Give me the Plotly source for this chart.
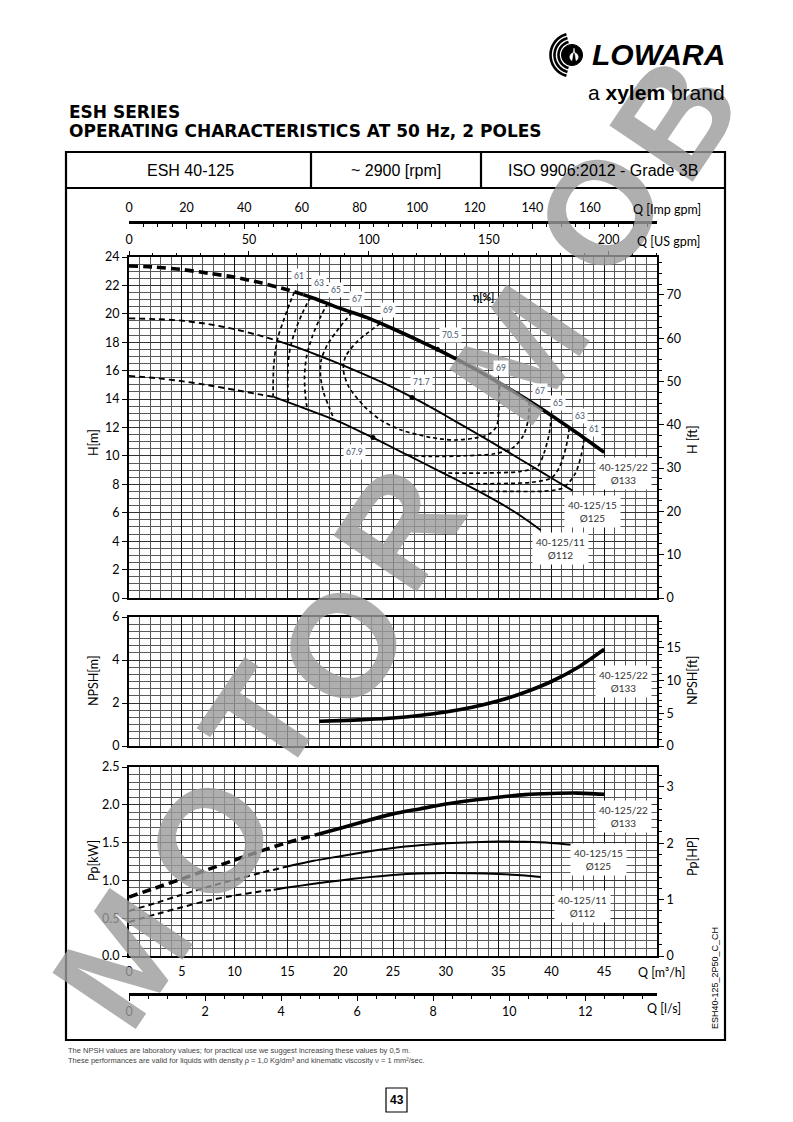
import math
import plotly.graph_objects as go

PAGE_W, PAGE_H = 793, 1122
BODY_M = 8                      # default browser body margin around the figure
FIG_W, FIG_H = PAGE_W - 2 * BODY_M, PAGE_H - 2 * BODY_M


def fx(x):
    return (x - BODY_M) / FIG_W


def fy(y):
    return 1 - (y - BODY_M) / FIG_H


# ---------------- data ----------------
# flow Q in m3/h, head H in m
q_h22 = [0, 2.5, 5, 7.5, 10, 12.5, 15, 16.5, 17.5, 20, 22.5, 25, 27.5, 30, 32.5, 35, 37.5, 40, 42.5, 45]
h_h22 = [23.37, 23.29, 23.12, 22.86, 22.58, 22.18, 21.70, 21.35, 21.10, 20.38, 19.75, 18.95, 18.10, 17.20, 16.22, 15.16, 14.05, 12.85, 11.58, 10.25]
h22_solid_from = 16.5
q_h15 = [0, 2.5, 5, 7.5, 10, 12.5, 14, 16, 18, 20, 22, 24, 26, 28, 30, 32, 34, 36, 38, 40, 42]
h_h15 = [19.68, 19.63, 19.52, 19.28, 18.92, 18.45, 18.12, 17.62, 17.05, 16.46, 15.83, 15.17, 14.43, 13.66, 12.83, 11.97, 11.11, 10.23, 9.34, 8.45, 7.56]
h15_solid_from = 14
q_h11 = [0, 2.5, 5, 7.5, 10, 12.5, 13.7, 16, 18, 20, 22, 24, 26, 28, 30, 32, 34, 36, 38, 39]
h_h11 = [15.63, 15.48, 15.26, 14.98, 14.65, 14.31, 14.15, 13.52, 12.96, 12.38, 11.68, 10.95, 10.20, 9.45, 8.70, 7.94, 7.15, 6.30, 5.32, 4.77]
h11_solid_from = 13.7

# iso-efficiency curves (left branches "a", right branches "b")
q_e61a = [15.67, 15.22, 14.65, 14.12, 13.87, 13.70, 13.65, 13.65]
h_e61a = [21.55, 20.73, 19.56, 18.39, 17.45, 16.28, 15.12, 14.18]
q_e63a = [17.19, 16.55, 15.76, 15.29, 15.07, 15.03, 15.07]
h_e63a = [21.19, 20.26, 18.86, 17.68, 16.52, 15.12, 13.85]
q_e65a = [18.83, 18.14, 17.35, 16.81, 16.62, 16.71, 16.88]
h_e65a = [20.77, 19.79, 18.39, 16.98, 15.58, 14.18, 13.30]
q_e67a = [21.15, 19.88, 18.77, 18.20, 18.14, 18.45, 18.93, 19.40]
h_e67a = [20.12, 18.98, 17.80, 16.75, 15.58, 14.41, 13.47, 12.60]
q_e69 = [23.8, 21.6, 20.5, 20.3, 20.8, 22.3, 23.8, 25.7, 28.6, 30.8, 32.7, 34.0, 34.8, 35.0, 35.1]
h_e69 = [19.33, 18.04, 16.98, 16.05, 14.88, 13.47, 12.54, 11.84, 11.30, 11.12, 11.25, 11.49, 12.07, 13.00, 15.12]
q_e67b = [37.9, 37.8, 37.3, 36.3, 34.6, 31.8, 28.6, 26.4]
h_e67b = [13.85, 12.54, 11.37, 10.55, 10.15, 10.01, 9.96, 10.05]
q_e65b = [40.0, 39.8, 39.3, 38.7, 37.1, 33.9, 29.7]
h_e65b = [12.85, 11.60, 10.20, 9.26, 8.91, 8.80, 8.80]
q_e63b = [41.7, 41.4, 40.8, 40.0, 38.1, 34.9, 31.8]
h_e63b = [11.96, 10.67, 9.26, 8.45, 8.14, 8.05, 8.02]
q_e61b = [43.1, 42.8, 42.2, 41.1, 39.3, 36.5, 33.2]
h_e61b = [11.22, 9.96, 8.68, 7.75, 7.52, 7.50, 7.50]

# best efficiency points (70.5 / 71.7 / 67.9 %)
q_bep = [29.2, 26.8, 23.1]
h_bep = [17.50, 14.12, 11.29]

# NPSH (40-125/22), m
q_npsh = [18, 20, 22.5, 25, 27.5, 30, 32.5, 35, 37.5, 40, 42.5, 45]
v_npsh = [1.15, 1.18, 1.23, 1.30, 1.42, 1.58, 1.80, 2.10, 2.50, 3.00, 3.65, 4.50]

# shaft power, kW
q_p22 = [0, 2.5, 5, 7.5, 10, 12.5, 15, 18, 20, 22.5, 25, 27.5, 30, 32.5, 35, 37.5, 40, 42.5, 45]
p_p22 = [0.78, 0.90, 1.02, 1.145, 1.27, 1.39, 1.50, 1.615, 1.69, 1.79, 1.88, 1.945, 2.01, 2.06, 2.10, 2.135, 2.15, 2.155, 2.14]
p22_solid_from = 18
q_p15 = [0, 2.5, 5, 7.5, 10, 12.5, 15, 17.5, 20, 22.5, 25, 27.5, 30, 32.5, 35, 37.5, 40, 42]
p_p15 = [0.595, 0.70, 0.81, 0.915, 1.01, 1.10, 1.185, 1.26, 1.32, 1.38, 1.43, 1.465, 1.49, 1.505, 1.515, 1.51, 1.495, 1.47]
p15_solid_from = 15
q_p11 = [0, 2.5, 5, 7.5, 10, 12.5, 13.7, 15, 17.5, 20, 22.5, 25, 27.5, 30, 32.5, 35, 37.5, 39]
p_p11 = [0.45, 0.55, 0.645, 0.735, 0.80, 0.855, 0.875, 0.905, 0.955, 1.00, 1.04, 1.07, 1.09, 1.098, 1.095, 1.085, 1.065, 1.045]
p11_solid_from = 13.7

# axis ranges / unit conversions / tick labels
Q_MAX = 50
H_MAX = 24
NPSH_MAX = 6
P_MAX = 2.5
M3H_TO_USGPM = 4.40287
M3H_TO_IMPGPM = 3.66615
M3H_TO_LS = 1 / 3.6
M_TO_FT = 3.28084
KW_TO_HP = 1 / 0.7457
q_ticks = [0, 5, 10, 15, 20, 25, 30, 35, 40, 45]
usgpm_ticks = [0, 50, 100, 150, 200]
impgpm_ticks = [0, 20, 40, 60, 80, 100, 120, 140, 160]
ls_ticks = [0, 2, 4, 6, 8, 10, 12]

# ---------------- figure ----------------
fig = go.Figure()
TF = dict(family="Lato", size=12.5, color="black")
LAB_COL = "#44546A"


def add_split(q, v, split_q, xa, ya, width, dash):
    i = q.index(split_q)
    fig.add_trace(go.Scatter(x=q[:i + 1], y=v[:i + 1], xaxis=xa, yaxis=ya, mode="lines",
                             line=dict(color="black", width=width, dash=dash, shape="spline", smoothing=0.6),
                             hoverinfo="skip", showlegend=False))
    fig.add_trace(go.Scatter(x=q[i:], y=v[i:], xaxis=xa, yaxis=ya, mode="lines",
                             line=dict(color="black", width=width, shape="spline", smoothing=0.6),
                             hoverinfo="skip", showlegend=False))


def add_line(q, v, xa, ya, width, dash):
    fig.add_trace(go.Scatter(x=q, y=v, xaxis=xa, yaxis=ya, mode="lines",
                             line=dict(color="black", width=width, dash=dash, shape="spline", smoothing=0.8),
                             hoverinfo="skip", showlegend=False))


add_split(q_h22, h_h22, h22_solid_from, "x", "y", 3.6, "9px,5px")
add_split(q_h15, h_h15, h15_solid_from, "x", "y", 1.9, "6px,4px")
add_split(q_h11, h_h11, h11_solid_from, "x", "y", 1.9, "6px,4px")
EDASH = "4px,3px"
for qq, hh in [(q_e61a, h_e61a), (q_e63a, h_e63a), (q_e65a, h_e65a), (q_e67a, h_e67a),
               (q_e69, h_e69), (q_e67b, h_e67b), (q_e65b, h_e65b), (q_e63b, h_e63b), (q_e61b, h_e61b)]:
    add_line(qq, hh, "x", "y", 1.7, EDASH)
fig.add_trace(go.Scatter(x=q_bep, y=h_bep, xaxis="x", yaxis="y", mode="markers",
                         marker=dict(color="black", size=5), hoverinfo="skip", showlegend=False))
add_line(q_npsh, v_npsh, "x2", "y2", 3.6, "solid")
add_split(q_p22, p_p22, p22_solid_from, "x3", "y3", 3.6, "9px,5px")
add_split(q_p15, p_p15, p15_solid_from, "x3", "y3", 2.0, "6px,4px")
add_split(q_p11, p_p11, p11_solid_from, "x3", "y3", 2.0, "6px,4px")
# empty traces so that the secondary axes are registered
for xa, ya in [("x4", "y"), ("x5", "y"), ("x6", "y3"), ("x", "y4"), ("x2", "y5"), ("x3", "y6")]:
    fig.add_trace(go.Scatter(x=[], y=[], xaxis=xa, yaxis=ya, mode="lines",
                             hoverinfo="skip", showlegend=False))

XDOM = [fx(129), fx(657)]
GRID_MAJ = "#111111"
GRID_MIN = "#5a5a5a"


def xbase(anchor, show_labels):
    d = dict(domain=XDOM, range=[0, Q_MAX], anchor=anchor, showgrid=True, gridcolor=GRID_MAJ,
             gridwidth=1.1, tick0=0, dtick=5,
             minor=dict(tick0=0, dtick=1, showgrid=True, gridcolor=GRID_MIN, gridwidth=0.6),
             showline=True, linecolor="black", linewidth=2, mirror=True, zeroline=False,
             ticks="", showticklabels=show_labels, tickfont=TF, fixedrange=True, automargin=False)
    if show_labels:
        d["tickvals"] = q_ticks
        d["ticklabelstandoff"] = 3
    return d


def ybase(anchor, dom, rng, dtick, mdtick, fmt=None):
    d = dict(domain=dom, range=rng, anchor=anchor, tick0=0, dtick=dtick, ticks="outside",
             ticklen=5, tickcolor="black", showgrid=True, gridcolor="#333333", gridwidth=1.1,
             minor=dict(tick0=0, dtick=mdtick, showgrid=True, gridcolor=GRID_MIN, gridwidth=0.6),
             showline=True, linecolor="black", linewidth=2, mirror=True, zeroline=False,
             tickfont=TF, fixedrange=True, automargin=False)
    if fmt:
        d["tickformat"] = fmt
    return d


def yright(over, anchor, rng, dtick, mdtick):
    return dict(overlaying=over, anchor=anchor, side="right", range=rng, tick0=0, dtick=dtick,
                ticks="outside", ticklen=5, tickcolor="black",
                minor=dict(tick0=0, dtick=mdtick, ticks="outside", ticklen=3, tickcolor="black",
                           showgrid=False),
                showgrid=False, showline=True, linecolor="black", linewidth=2, zeroline=False,
                tickfont=TF, fixedrange=True, automargin=False)


layout_axes = dict(
    xaxis=xbase("y", False), xaxis2=xbase("y2", False), xaxis3=xbase("y3", True),
    yaxis=ybase("x", [fy(598), fy(257)], [0, H_MAX], 2, 0.5),
    yaxis2=ybase("x2", [fy(746), fy(617)], [0, NPSH_MAX], 2, 1 / 3),
    yaxis3=ybase("x3", [fy(956), fy(767)], [0, P_MAX], 0.5, 0.1, ".1f"),
    yaxis4=yright("y", "x", [0, H_MAX * M_TO_FT], 10, 2.5),
    yaxis5=yright("y2", "x2", [0, NPSH_MAX * M_TO_FT], 5, 1),
    yaxis6=yright("y3", "x3", [0, P_MAX * KW_TO_HP], 1, 0.2),
    xaxis4=dict(overlaying="x", anchor="y", side="top", range=[0, Q_MAX * M3H_TO_USGPM],
                tickvals=usgpm_ticks, ticks="outside", ticklen=5, tickcolor="black",
                minor=dict(tick0=0, dtick=10, ticks="outside", ticklen=3, tickcolor="black"),
                showgrid=False, showline=False, zeroline=False, tickfont=TF, fixedrange=True,
                ticklabelstandoff=2, automargin=False),
    xaxis5=dict(overlaying="x", anchor="free", position=fy(222), side="top",
                range=[0, Q_MAX * M3H_TO_IMPGPM], tickvals=impgpm_ticks, ticks="inside", ticklen=5,
                tickcolor="black",
                minor=dict(tick0=0, dtick=5, ticks="inside", ticklen=3, tickcolor="black"),
                showgrid=False, showline=True, linecolor="black", linewidth=2.5, zeroline=False,
                tickfont=TF, fixedrange=True, ticklabelstandoff=4, automargin=False),
    xaxis6=dict(overlaying="x3", anchor="free", position=fy(994), side="bottom",
                range=[0, Q_MAX * M3H_TO_LS], tickvals=ls_ticks, ticks="outside", ticklen=5,
                tickcolor="black",
                minor=dict(tick0=0, dtick=0.5, ticks="outside", ticklen=3, tickcolor="black"),
                showgrid=False, showline=True, linecolor="black", linewidth=2.5, zeroline=False,
                tickfont=TF, fixedrange=True, automargin=False),
)

ann = []


def page_text(x, y, text, size, family="Liberation Sans", color="black", xanchor="center",
              angle=0, yanchor="middle"):
    ann.append(dict(x=fx(x), y=fy(y), xref="paper", yref="paper", text=text, showarrow=False,
                    xanchor=xanchor, yanchor=yanchor, textangle=angle,
                    font=dict(family=family, size=size, color=color)))


def data_text(x, y, text, xr, yr, size, color, bg="white", family="Lato", pad=1):
    ann.append(dict(x=x, y=y, xref=xr, yref=yr, text=text, showarrow=False, bgcolor=bg,
                    borderpad=pad, font=dict(family=family, size=size, color=color)))


# watermark letters
wm = [("M", 122, 958), ("O", 210, 840), ("T", 262, 720), ("O", 343, 645),
      ("R", 398, 528), ("M", 520, 355), ("O", 600, 212), ("B", 674, 118)]
for ch, x, y in wm:
    ann.append(dict(x=fx(x), y=fy(y), xref="paper", yref="paper", text="<b>" + ch + "</b>",
                    showarrow=False, textangle=-56, xanchor="center", yanchor="middle",
                    opacity=0.8,
                    font=dict(family="Liberation Sans", size=146, color="#9c9c9c")))

# header
page_text(727, 55, "<b><i>LOWARA</i></b>", 30, xanchor="right")
page_text(727, 93, "a <b>xylem</b> brand", 21, xanchor="right")
page_text(67, 112, "<b>ESH SERIES</b>", 17, family="DejaVu Sans", xanchor="left")
page_text(67, 131, "<b>OPERATING CHARACTERISTICS AT 50 Hz, 2 POLES</b>", 17, family="DejaVu Sans",
          xanchor="left")
page_text(190, 170, "ESH 40-125", 16)
page_text(396, 170, "~ 2900 [rpm]", 16)
page_text(603, 170, "ISO 9906:2012 - Grade 3B", 16)

# axis titles
AT = "Lato"
page_text(667, 209, "Q [Imp gpm]", 12.5, family=AT)
page_text(668, 241, "Q [US gpm]", 12.5, family=AT)
page_text(661, 972, "Q [m³/h]", 12.5, family=AT)
page_text(664, 1008, "Q [l/s]", 12.5, family=AT)
page_text(93, 443, "H[m]", 12.5, family=AT, angle=-90)
page_text(93, 681, "NPSH[m]", 12.5, family=AT, angle=-90)
page_text(93, 861, "Pp[kW]", 12.5, family=AT, angle=-90)
page_text(692, 440, "H [ft]", 12.5, family=AT, angle=-90)
page_text(692, 681, "NPSH[ft]", 12.5, family=AT, angle=-90)
page_text(692, 857, "Pp[HP]", 12.5, family=AT, angle=-90)
page_text(715, 978, "ESH40-125_2P50_C_CH", 9, angle=-90)

# footnotes and page number
page_text(66, 1050, "The NPSH values are laboratory values; for practical use we suggest increasing these values by 0,5 m.",
          7.5, color="#444444", xanchor="left")
page_text(66, 1060, "These performances are valid for liquids with density ρ = 1,0 Kg/dm³ and kinematic viscosity ν = 1 mm²/sec.",
          7.5, color="#444444", xanchor="left")
page_text(396.5, 1100, "<b>43</b>", 12)

# efficiency labels
eff_labels = [("61", 16.14, 22.63), ("63", 17.95, 22.20), ("65", 19.56, 21.66), ("67", 21.56, 21.03),
              ("69", 24.5, 20.26), ("70.5", 30.48, 18.50), ("71.7", 27.73, 15.20), ("67.9", 21.37, 10.29),
              ("69", 35.23, 16.19), ("67", 38.94, 14.58), ("65", 40.65, 13.73), ("63", 42.74, 12.82),
              ("61", 44.07, 11.91)]
for t, xq, yh in eff_labels:
    data_text(xq, yh, t, "x", "y", 8.5, LAB_COL, pad=2)
ann.append(dict(x=33.6, y=21.17, xref="x", yref="y", text="<b>η[%]</b>", showarrow=False,
                font=dict(family="Lato", size=10.5, color="black")))

# curve labels
CL = "#333333"
data_text(46.8, 8.74, "40-125/22<br>Ø133", "x", "y", 10, CL, pad=3)
data_text(43.87, 6.08, "40-125/15<br>Ø125", "x", "y", 10, CL, pad=3)
data_text(40.84, 3.49, "40-125/11<br>Ø112", "x", "y", 10, CL, pad=3)
data_text(46.8, 3.02, "40-125/22<br>Ø133", "x2", "y2", 10, CL, pad=3)
data_text(46.8, 1.85, "40-125/22<br>Ø133", "x3", "y3", 10, CL, pad=3)
data_text(44.44, 1.27, "40-125/15<br>Ø125", "x3", "y3", 10, CL, pad=3)
data_text(42.9, 0.66, "40-125/11<br>Ø112", "x3", "y3", 10, CL, pad=3)

# shapes: frame, header table, page number box, logo
shapes = []


def pline(x0, y0, x1, y1, w=2):
    shapes.append(dict(type="line", xref="paper", yref="paper", x0=fx(x0), y0=fy(y0), x1=fx(x1),
                       y1=fy(y1), line=dict(color="black", width=w)))


def prect(x0, y0, x1, y1, w=2):
    shapes.append(dict(type="rect", xref="paper", yref="paper", x0=fx(x0), y0=fy(y0), x1=fx(x1),
                       y1=fy(y1), line=dict(color="black", width=w)))


prect(66, 152, 725, 1040, 2.2)
pline(66, 188, 725, 188, 2.2)
pline(311, 152, 311, 188, 2.2)
pline(481, 152, 481, 188, 2.2)
prect(386, 1088, 407, 1112, 1.2)


def arc_path(cx, cy, r, a0, a1, n=24):
    pts = []
    for i in range(n + 1):
        a = math.radians(a0 + (a1 - a0) * i / n)
        pts.append((fx(cx + r * math.cos(a)), fy(cy - r * math.sin(a))))
    return "M " + " L ".join(f"{p[0]:.5f},{p[1]:.5f}" for p in pts)


cx, cy = 572, 55
for r in (13.5, 17.5, 21.5):
    shapes.append(dict(type="path", xref="paper", yref="paper", path=arc_path(cx, cy, r, 105, 255),
                       line=dict(color="black", width=2.6)))
circle = arc_path(cx, cy, 10.5, 0, 360, 36) + " Z"
shapes.append(dict(type="path", xref="paper", yref="paper", path=circle, fillcolor="black",
                   line=dict(color="black", width=1)))
drop = arc_path(cx + 2, cy + 2, 4.2, -60, 240, 20) + f" L {fx(cx + 2):.5f},{fy(cy - 7):.5f} Z"
shapes.append(dict(type="path", xref="paper", yref="paper", path=drop, fillcolor="white",
                   line=dict(color="white", width=0.5)))

fig.update_layout(
    width=FIG_W, height=FIG_H, margin=dict(l=0, r=0, t=0, b=0, pad=0, autoexpand=False),
    paper_bgcolor="white", plot_bgcolor="white", showlegend=False,
    annotations=ann, shapes=shapes, **layout_axes,
)

fig.write_html("out.html", config={"displayModeBar": False})
